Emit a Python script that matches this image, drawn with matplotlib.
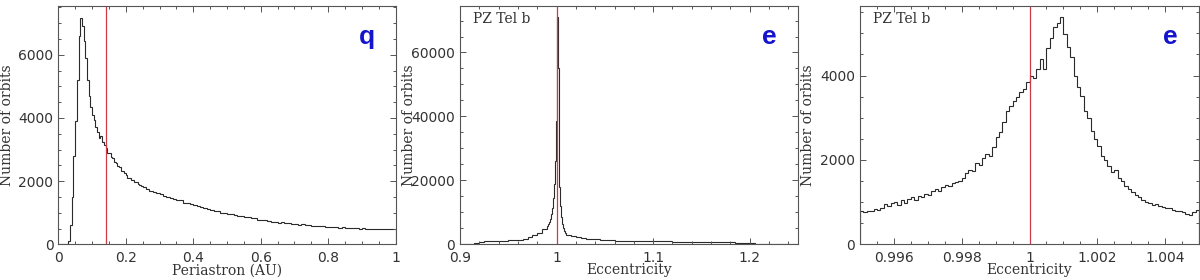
import numpy as np
import matplotlib
matplotlib.use("Agg")
import matplotlib.pyplot as plt
from matplotlib.ticker import MultipleLocator, FormatStrFormatter

# ---------------- data ----------------
# Panel 1: periastron histogram (fine bins 0-0.25, coarse bins 0.25-1)
peri_fine_counts = [0, 0, 0, 0, 0, 0, 100, 600, 1500, 2800,
                    3900, 5200, 6600, 7150, 6900, 6450, 5900, 5200, 4700, 4350,
                    4100, 3950, 3700, 3550, 3380, 3420, 3250, 3150, 3050, 2900,
                    2880, 2760, 2720, 2600, 2580, 2480, 2440, 2330, 2310, 2250,
                    2190, 2100, 2110, 2040, 2030, 1960, 1970, 1900, 1880, 1840]
peri_coarse_counts = [1800, 1760, 1690, 1650, 1610, 1590, 1530, 1510, 1450, 1440,
                      1390, 1400, 1320, 1300, 1280, 1230, 1220, 1170, 1160, 1110,
                      1100, 1050, 1050, 1000, 1000, 970, 950, 940, 900, 900,
                      860, 860, 820, 820, 780, 780, 760, 750, 720, 720,
                      690, 700, 670, 670, 640, 650, 620, 630, 600, 610,
                      580, 590, 570, 575, 555, 560, 540, 550, 530, 535,
                      520, 525, 505, 515, 500, 505, 490, 495, 480, 490,
                      475, 480, 470, 475, 470]
peri_obs = 0.14

# Panel 2: eccentricity histogram (wide range)
ecc_left_counts = [0, 0, 150, 450, 750, 950, 1050, 1080, 1100, 1150,
                   1220, 1320, 1500, 1750, 2150, 2800, 3600, 4700]
ecc_mid_counts = [5800, 6400, 7000, 8000, 9500, 11500, 14500, 19000, 26000, 38700,
                  71000, 55000, 32000, 18000, 12000, 8500, 6500, 5000, 4200, 3600]
ecc_right_counts = [3000, 2450, 2150, 1950, 1780, 1650, 1520, 1400, 1320, 1250,
                    1180, 1120, 1080, 1050, 1020, 1000, 980, 960, 940, 920,
                    900, 880, 870, 860, 850, 840, 830, 820, 820, 810,
                    820, 830, 830, 780, 600, 450, 380, 320, 270, 210,
                    150, 100, 50, 20, 0, 0, 0, 0]
ecc_obs = 1.0

# Panel 3: eccentricity histogram (zoom around 1)
ecc_zoom_counts = [780, 760, 800, 790, 830, 820, 870, 950, 900, 980,
                   1010, 940, 1050, 990, 1080, 1120, 1050, 1150, 1130, 1200,
                   1180, 1260, 1300, 1270, 1360, 1400, 1380, 1450, 1480, 1500,
                   1560, 1680, 1760, 1740, 1920, 1880, 2050, 2150, 2100, 2300,
                   2550, 2650, 2900, 3150, 3280, 3400, 3500, 3600, 3680, 3850,
                   4000, 3950, 4150, 4400, 4150, 4650, 4900, 5150, 5250, 5380,
                   4980, 4680, 4450, 3980, 3720, 3520, 3150, 3000, 2680, 2500,
                   2330, 2100, 1990, 1850, 1720, 1750, 1560, 1500, 1380, 1320,
                   1230, 1180, 1120, 1060, 1000, 990, 940, 960, 900, 880,
                   860, 850, 820, 800, 790, 760, 720, 700, 760, 820]

# bin edges
peri_edges = np.concatenate([np.linspace(0, 0.25, len(peri_fine_counts) + 1)[:-1],
                             np.linspace(0.25, 1.0, len(peri_coarse_counts) + 1)])
ecc_edges = np.concatenate([np.linspace(0.90, 0.99, len(ecc_left_counts) + 1)[:-1],
                            np.linspace(0.99, 1.01, len(ecc_mid_counts) + 1)[:-1],
                            np.linspace(1.01, 1.25, len(ecc_right_counts) + 1)])
ecc_zoom_edges = np.linspace(0.995, 1.005, len(ecc_zoom_counts) + 1)

# ---------------- style ----------------
plt.rcParams['font.family'] = ['DejaVu Sans']
LINE = '#2a2a2a'
RED = '#cc3a4a'
BLUE = '#1414cc'
FRAME = '#555555'
TXT = '#333333'
SERIF = 'DejaVu Serif'

fig = plt.figure(figsize=(12, 2.8), dpi=100)

W, H = 1200.0, 280.0
bottom = (H - 244.3) / H
height = 238.8 / H
lefts = [58.3, 460.0, 860.0]
widths = [337.4, 338.0, 339.0]

panels = [
    dict(counts=np.concatenate([peri_fine_counts, peri_coarse_counts]), edges=peri_edges,
         obs=peri_obs, xlim=(0, 1), ylim=(0, 7560), xmaj=0.2, xmin=0.05, ymaj=2000, ymin=500,
         xlabel='Periastron (AU)', letter='q', pz=False),
    dict(counts=np.concatenate([ecc_left_counts, ecc_mid_counts, ecc_right_counts]), edges=ecc_edges,
         obs=ecc_obs, xlim=(0.9, 1.25), ylim=(0, 74700), xmaj=0.1, xmin=0.02, ymaj=20000, ymin=5000,
         xlabel='Eccentricity', letter='e', pz=True),
    dict(counts=np.array(ecc_zoom_counts), edges=ecc_zoom_edges,
         obs=ecc_obs, xlim=(0.995, 1.005), ylim=(0, 5660), xmaj=0.002, xmin=0.0005, ymaj=2000, ymin=500,
         xlabel='Eccentricity', letter='e', pz=True),
]

for i, p in enumerate(panels):
    ax = fig.add_axes([lefts[i] / W, bottom, widths[i] / W, height])
    ax.stairs(p['counts'], p['edges'], color=LINE, lw=0.8)
    ax.axvline(p['obs'], color=RED, lw=0.9)
    ax.set_xlim(*p['xlim'])
    ax.set_ylim(*p['ylim'])
    ax.xaxis.set_major_locator(MultipleLocator(p['xmaj']))
    ax.xaxis.set_minor_locator(MultipleLocator(p['xmin']))
    ax.yaxis.set_major_locator(MultipleLocator(p['ymaj']))
    ax.yaxis.set_minor_locator(MultipleLocator(p['ymin']))
    ax.xaxis.set_major_formatter(FormatStrFormatter('%g'))
    ax.yaxis.set_major_formatter(FormatStrFormatter('%g'))
    ax.tick_params(which='both', direction='in', top=True, right=True,
                   color=FRAME, width=0.7, labelsize=10, labelcolor=TXT)
    ax.tick_params(which='major', length=4.5)
    ax.tick_params(axis='y', which='major', pad=3.5)
    ax.tick_params(axis='x', which='major', pad=5)
    ax.tick_params(which='minor', length=2.2)
    for s in ax.spines.values():
        s.set_color(FRAME)
        s.set_linewidth(0.8)
    ax.set_xlabel(p['xlabel'], family=SERIF, fontsize=10, color=TXT)
    ax.xaxis.set_label_coords(0.5, -0.08)
    ax.xaxis.label.set_va('top')
    ax.set_ylabel('Number of orbits', family=SERIF, fontsize=10, color=TXT)
    ax.yaxis.set_label_coords(-0.152, 0.5)
    ax.yaxis.label.set_va('center')
    ax.text(0.915, 0.87, p['letter'], transform=ax.transAxes, color=BLUE,
            fontsize=19, fontweight='bold', ha='center', va='center', family='Liberation Sans')
    if p['pz']:
        ax.text(0.038, 0.943, 'PZ Tel b', transform=ax.transAxes, color=TXT,
                fontsize=10, ha='left', va='center', family=SERIF)

fig.savefig('out.png', dpi=100)
